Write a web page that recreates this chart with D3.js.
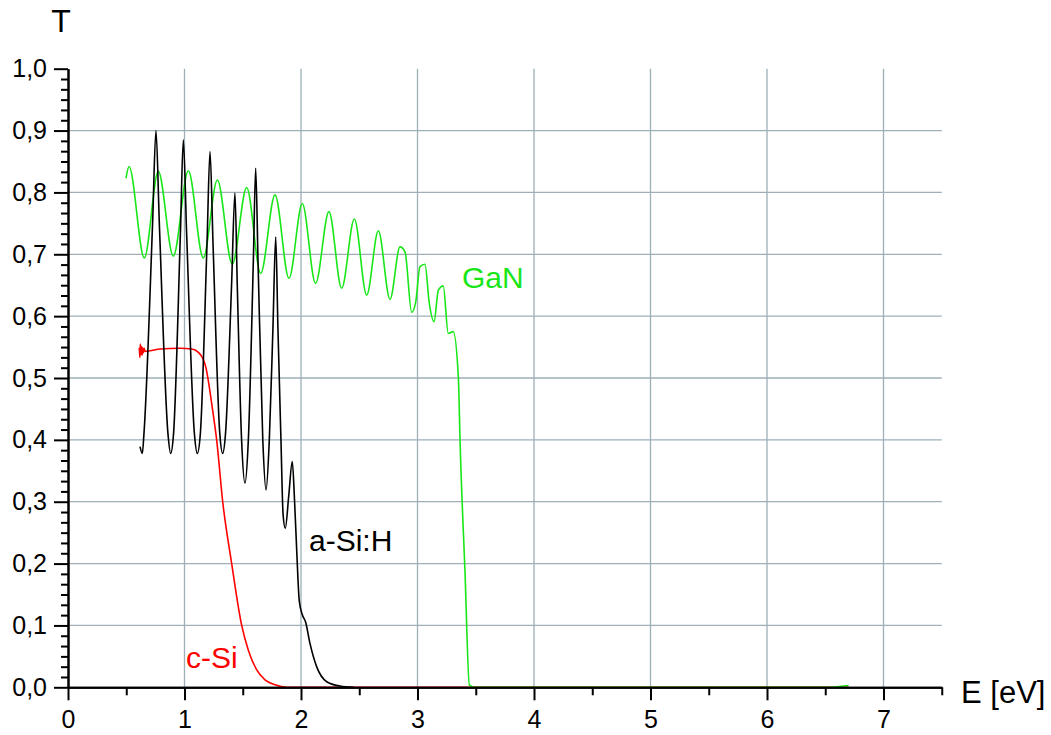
<!DOCTYPE html>
<html>
<head>
<meta charset="utf-8">
<script src="https://cdn.jsdelivr.net/npm/d3@7"></script>
<style>
  html, body { margin: 0; padding: 0; background: #fff; }
  svg { display: block; }
  text { font-family: "Liberation Sans", Arial, sans-serif; }
</style>
</head>
<body>
<svg id="chart" width="1051" height="735"></svg>
<script>
// Transmission spectra T(E) of three semiconductor films

// GaN film: [photon energy eV, transmission]
const ganData = [
  [0.498, 0.823], [0.524, 0.842], [0.655, 0.694], [0.775, 0.834], [0.904, 0.697],
  [1.033, 0.835], [1.161, 0.694], [1.282, 0.820], [1.410, 0.684], [1.534, 0.808],
  [1.654, 0.669], [1.777, 0.796], [1.897, 0.661], [2.011, 0.782], [2.125, 0.653],
  [2.240, 0.769], [2.349, 0.645], [2.458, 0.757], [2.564, 0.634], [2.664, 0.738],
  [2.764, 0.627], [2.850, 0.712], [2.893, 0.704], [2.950, 0.606], [2.985, 0.623],
  [3.021, 0.680], [3.064, 0.684], [3.101, 0.621], [3.142, 0.591], [3.179, 0.642],
  [3.221, 0.649], [3.264, 0.572], [3.307, 0.575], [3.351, 0.500], [3.365, 0.400],
  [3.408, 0.185], [3.445, 0.004], [3.494, 0.000], [6.500, 0.000], [6.700, 0.003]
];

// amorphous hydrogenated silicon film
const aSiHData = [
  [0.618, 0.389], [0.638, 0.378], [0.652, 0.410], [0.726, 0.750], [0.755, 0.900],
  [0.784, 0.750], [0.858, 0.410], [0.881, 0.378], [0.906, 0.410], [0.965, 0.735],
  [0.990, 0.885], [1.018, 0.735], [1.085, 0.410], [1.110, 0.378], [1.136, 0.410],
  [1.193, 0.716], [1.219, 0.866], [1.245, 0.716], [1.303, 0.410], [1.328, 0.378],
  [1.352, 0.410], [1.404, 0.650], [1.433, 0.799], [1.453, 0.650], [1.490, 0.400],
  [1.519, 0.330], [1.548, 0.400], [1.591, 0.690], [1.611, 0.839], [1.631, 0.690],
  [1.672, 0.400], [1.700, 0.319], [1.728, 0.400], [1.759, 0.580], [1.783, 0.728],
  [1.802, 0.580], [1.828, 0.400], [1.846, 0.280], [1.865, 0.257], [1.895, 0.310],
  [1.925, 0.365], [1.945, 0.300], [1.963, 0.222], [1.985, 0.140], [2.010, 0.118],
  [2.040, 0.105], [2.077, 0.071], [2.135, 0.033], [2.221, 0.009], [2.335, 0.002],
  [2.450, 0.000]
];

// crystalline silicon wafer
const cSiData = [
  [0.612, 0.549], [0.617, 0.533], [0.621, 0.555], [0.626, 0.538], [0.631, 0.551],
  [0.636, 0.537], [0.641, 0.549], [0.647, 0.541], [0.654, 0.548], [0.662, 0.543],
  [0.704, 0.544], [0.790, 0.547], [0.961, 0.548], [1.062, 0.547], [1.119, 0.5415],
  [1.156, 0.532], [1.185, 0.516], [1.210, 0.489], [1.240, 0.450], [1.276, 0.400],
  [1.328, 0.300], [1.405, 0.200], [1.491, 0.100], [1.548, 0.060], [1.620, 0.028],
  [1.691, 0.012], [1.777, 0.004], [1.877, 0.000], [6.700, 0.000]
];

const xTicks = [0, 1, 2, 3, 4, 5, 6, 7];
const xTickLabels = ["0", "1", "2", "3", "4", "5", "6", "7"];
const yTicks = [0, 0.1, 0.2, 0.3, 0.4, 0.5, 0.6, 0.7, 0.8, 0.9, 1.0];
const yTickLabels = ["0,0", "0,1", "0,2", "0,3", "0,4", "0,5", "0,6", "0,7", "0,8", "0,9", "1,0"];
const xGrid = [1, 2, 3, 4, 5, 6, 7];
const yGrid = [0.1, 0.2, 0.3, 0.4, 0.5, 0.6, 0.7, 0.8, 0.9];

const svg = d3.select("#chart");
const x = d3.scaleLinear().domain([0, 7.5]).range([68, 941.75]);
const y = d3.scaleLinear().domain([0, 1]).range([687.3, 68.7]);

const gridColor = "#9eafb8";

// grid
svg.append("g").selectAll("line").data(yGrid).join("line")
  .attr("x1", x(0)).attr("x2", x(7.5))
  .attr("y1", d => y(d)).attr("y2", d => y(d))
  .attr("stroke", gridColor).attr("stroke-width", 1.3);
svg.append("g").selectAll("line").data(xGrid).join("line")
  .attr("x1", d => x(d)).attr("x2", d => x(d))
  .attr("y1", y(0)).attr("y2", y(1))
  .attr("stroke", gridColor).attr("stroke-width", 1.3);

// curves
const line = d3.line()
  .x(d => x(d[0])).y(d => y(d[1]))
  .curve(d3.curveMonotoneX);

const series = [
  { data: cSiData, color: "#ff0000" },
  { data: ganData, color: "#19e619" },
  { data: aSiHData, color: "#000000" }
];
svg.append("g").selectAll("path").data(series).join("path")
  .attr("d", d => line(d.data))
  .attr("fill", "none")
  .attr("stroke", d => d.color)
  .attr("stroke-width", 1.6)
  .attr("stroke-linejoin", "round");

// axes
const fmtY = d => yTickLabels[yTicks.indexOf(d)];
const fmtX = d => xTickLabels[xTicks.indexOf(d)];

// five minor ticks between the major ticks of T, one between those of E
const yMinor = d3.range(0, 61).filter(i => i % 6 !== 0).map(i => i / 60);
const xMinor = d3.range(0, 8).map(i => i + 0.5);

function styleAxis(g) {
  g.select(".domain").attr("stroke", "#000").attr("stroke-width", 2);
  g.selectAll(".tick line").attr("stroke", "#000").attr("stroke-width", 2);
  g.selectAll("text").attr("fill", "#000").attr("font-size", 25)
    .attr("font-family", "'Liberation Sans', Arial, sans-serif");
}

svg.append("g").attr("transform", `translate(${x(0)},0)`)
  .call(d3.axisLeft(y).tickValues(yMinor).tickSize(7).tickSizeOuter(0).tickFormat(""))
  .call(styleAxis);
svg.append("g").attr("transform", `translate(${x(0)},0)`)
  .call(d3.axisLeft(y).tickValues(yTicks).tickSize(14).tickPadding(7).tickSizeOuter(0).tickFormat(fmtY))
  .call(styleAxis);

svg.append("g").attr("transform", `translate(0,${y(0)})`)
  .call(d3.axisBottom(x).tickValues(xMinor).tickSize(8).tickSizeOuter(0).tickFormat(""))
  .call(styleAxis);
svg.append("g").attr("transform", `translate(0,${y(0)})`)
  .call(d3.axisBottom(x).tickValues(xTicks).tickSize(13).tickPadding(10).tickSizeOuter(0).tickFormat(fmtX))
  .call(styleAxis);

// axis titles
svg.append("text").attr("x", 61).attr("y", 32).attr("text-anchor", "middle")
  .attr("font-size", 32).attr("fill", "#000").text("T");
svg.append("text").attr("x", 961).attr("y", 703).attr("text-anchor", "start")
  .attr("font-size", 31).attr("fill", "#000").text("E [eV]");

// series labels
svg.append("text").attr("x", 462).attr("y", 288).attr("font-size", 30)
  .attr("fill", "#19e619").text("GaN");
svg.append("text").attr("x", 309).attr("y", 551).attr("font-size", 30)
  .attr("fill", "#000").text("a-Si:H");
svg.append("text").attr("x", 186).attr("y", 668).attr("font-size", 30)
  .attr("fill", "#ff0000").text("c-Si");
</script>
</body>
</html>
